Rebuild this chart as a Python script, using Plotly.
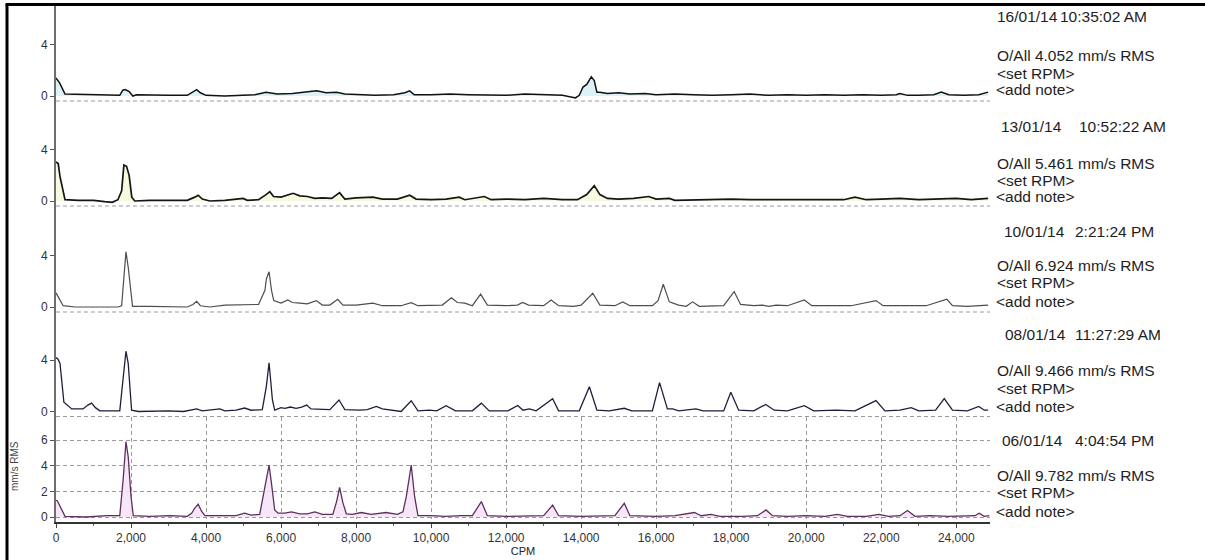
import plotly.graph_objects as go
from plotly.subplots import make_subplots

# ---------------- data (CPM, mm/s RMS) ----------------
spec_160114 = [(0,1.4),(100,1.0),(240,0.15),(600,0.12),(1000,0.05),(1400,0.05),(1700,0.05),(1780,0.45),(1850,0.5),
    (1950,0.35),(2050,0.0),(2150,0.1),(2600,0.05),(3000,0.05),(3500,0.05),(3650,0.35),(3750,0.5),(3850,0.25),
    (4000,0.05),(4500,0.0),(5000,0.05),(5300,0.1),(5600,0.3),(5900,0.15),(6300,0.2),(6700,0.3),(6950,0.4),
    (7200,0.25),(7480,0.3),(7700,0.15),(8000,0.1),(8500,0.05),(9000,0.1),(9300,0.25),(9430,0.4),(9550,0.1),
    (10000,0.1),(10500,0.15),(11000,0.1),(11500,0.05),(12000,0.05),(12500,0.15),(13000,0.1),(13500,0.05),
    (13850,-0.15),(13950,0.05),(14050,0.7),(14150,0.9),(14270,1.5),(14350,1.2),(14420,0.3),(14500,0.3),
    (14700,0.2),(15000,0.25),(15300,0.15),(15700,0.2),(16000,0.1),(16500,0.15),(17000,0.1),(17500,0.05),
    (18000,0.1),(18500,0.15),(19000,0.05),(19500,0.1),(20000,0.05),(20500,0.1),(21000,0.05),(21500,0.1),
    (22000,0.05),(22400,0.1),(22500,0.2),(22700,0.05),(23000,0.05),(23400,0.1),(23600,0.3),(23800,0.1),
    (24200,0.05),(24600,0.1),(24850,0.3)]

spec_130114 = [(0,3.05),(60,2.9),(107,1.9),(240,0.1),(600,0.05),(1000,0.05),(1300,-0.05),(1500,-0.1),(1650,0.1),
    (1750,0.8),(1810,2.8),(1880,2.7),(1950,2.0),(2020,0.3),(2100,0.0),(2500,0.05),(3000,0.05),(3500,0.05),
    (3700,0.3),(3790,0.45),(3900,0.15),(4100,0.0),(4500,0.05),(4990,0.2),(5100,0.05),(5400,0.1),(5600,0.5),
    (5700,0.73),(5800,0.35),(6000,0.3),(6320,0.6),(6500,0.4),(6700,0.35),(6900,0.2),(7100,0.25),(7350,0.2),
    (7560,0.65),(7700,0.15),(8000,0.25),(8450,0.3),(8700,0.15),(9100,0.15),(9430,0.45),(9600,0.15),(10000,0.1),
    (10400,0.15),(10750,0.3),(10900,0.1),(11420,0.35),(11600,0.1),(12000,0.15),(12500,0.1),(13000,0.2),
    (13500,0.1),(13900,0.1),(14150,0.5),(14350,1.2),(14500,0.5),(14700,0.2),(15000,0.15),(15400,0.2),
    (15800,0.35),(16000,0.15),(16350,0.2),(16500,0.05),(17000,0.1),(17500,0.1),(18000,0.15),(18500,0.1),
    (19000,0.1),(19500,0.15),(20000,0.1),(20500,0.15),(21000,0.1),(21300,0.3),(21600,0.1),(22000,0.15),
    (22500,0.2),(23000,0.1),(23500,0.15),(24000,0.2),(24400,0.1),(24850,0.2)]

spec_100114 = [(0,1.1),(60,0.8),(190,0.1),(500,0.0),(1000,0.0),(1500,0.05),(1650,0.0),(1750,0.1),(1810,2.36),
    (1865,4.3),(1925,3.1),(1990,1.3),(2040,0.05),(2500,0.05),(3000,0.05),(3500,0.0),(3650,0.2),(3750,0.44),
    (3850,0.1),(4100,0.0),(4500,0.15),(5000,0.15),(5400,0.2),(5570,1.3),(5610,2.2),(5680,2.75),(5745,1.3),
    (5805,0.5),(6000,0.3),(6180,0.55),(6300,0.35),(6500,0.3),(6700,0.25),(6940,0.5),(7100,0.15),(7300,0.15),
    (7510,0.6),(7650,0.15),(8000,0.15),(8450,0.3),(8700,0.1),(9200,0.1),(9470,0.34),(9650,0.1),(10000,0.1),
    (10300,0.15),(10540,0.72),(10700,0.35),(10900,0.3),(11100,0.1),(11320,1.0),(11500,0.15),(12000,0.1),
    (12300,0.15),(12440,0.35),(12600,0.15),(13000,0.1),(13200,0.55),(13400,0.1),(13800,0.05),(14000,0.15),
    (14310,1.07),(14500,0.15),(14900,0.1),(15110,0.4),(15300,0.1),(15900,0.1),(16050,0.5),(16190,1.77),
    (16350,0.4),(16600,0.15),(16800,0.05),(16970,0.4),(17150,0.05),(17800,0.1),(18080,1.2),(18250,0.2),
    (18600,0.1),(18830,0.15),(19000,0.05),(19200,0.15),(19500,0.1),(19950,0.55),(20150,0.1),(20700,0.1),
    (21200,0.1),(21860,0.5),(22050,0.1),(22600,0.1),(23200,0.1),(23750,0.6),(23900,0.1),(24300,0.05),
    (24600,0.1),(24850,0.15)]

spec_080114 = [(0,4.2),(50,4.1),(107,3.75),(210,0.73),(420,0.2),(720,0.2),(850,0.5),(950,0.65),(1050,0.3),
    (1170,0.05),(1700,0.05),(1790,2.7),(1865,4.7),(1925,3.75),(2015,0.1),(2200,0.0),(3000,0.05),(3400,0.0),
    (3750,0.2),(3900,0.05),(4370,0.2),(4500,0.05),(4800,0.1),(5030,0.27),(5200,0.1),(5500,0.15),(5610,2.0),
    (5680,3.8),(5770,0.9),(5830,0.1),(6000,0.3),(6100,0.25),(6250,0.35),(6400,0.25),(6550,0.35),(6680,0.5),
    (6800,0.2),(7300,0.15),(7545,0.9),(7700,0.15),(8100,0.1),(8300,0.15),(8540,0.4),(8700,0.2),(9200,0.0),
    (9470,0.84),(9650,0.05),(9960,0.1),(10150,0.05),(10400,0.45),(10650,0.05),(11100,0.05),(11340,0.65),
    (11550,0.05),(12050,0.05),(12310,0.47),(12450,0.1),(12620,0.2),(12800,0.05),(13240,1.0),(13400,0.05),
    (13950,0.05),(14220,1.93),(14420,0.1),(14530,0.1),(14750,0.05),(15150,0.25),(15350,0.05),(15900,0.05),
    (16090,2.25),(16300,0.2),(16440,0.2),(16600,0.05),(17060,0.2),(17250,0.05),(17800,0.05),(17990,1.5),
    (18200,0.1),(18600,0.05),(18920,0.55),(19150,0.1),(19500,0.05),(19950,0.45),(20200,0.05),(20800,0.1),
    (21300,0.05),(21860,0.85),(22100,0.05),(22500,0.1),(22800,0.3),(23000,0.05),(23450,0.1),(23680,1.0),
    (23900,0.1),(24300,0.05),(24600,0.4),(24750,0.1),(24850,0.1)]

spec_060114 = [(0,1.3),(35,1.27),(240,0.05),(800,0.0),(1350,0.1),(1700,0.1),(1790,2.9),(1865,5.87),(1925,4.7),
    (2000,1.6),(2060,0.1),(2500,0.05),(3040,0.1),(3500,0.05),(3620,0.3),(3700,0.7),(3790,1.0),(3880,0.45),
    (3970,0.1),(4500,0.1),(4800,0.1),(5030,0.3),(5200,0.15),(5430,0.2),(5590,2.6),(5680,4.05),(5745,2.6),
    (5830,0.55),(5920,0.3),(6100,0.3),(6280,0.4),(6500,0.25),(6700,0.25),(6900,0.4),(7100,0.2),(7380,0.2),
    (7480,1.2),(7560,2.3),(7650,1.1),(7740,0.25),(7900,0.2),(8140,0.35),(8400,0.2),(8800,0.35),(9100,0.2),
    (9250,0.4),(9340,1.6),(9470,4.05),(9560,1.6),(9650,0.1),(10000,0.1),(10400,0.05),(10800,0.1),(11100,0.1),
    (11340,1.2),(11500,0.1),(12000,0.05),(12500,0.1),(13000,0.1),(13240,0.93),(13400,0.1),(14000,0.05),
    (14500,0.1),(14900,0.1),(15150,1.07),(15300,0.1),(16000,0.05),(16500,0.1),(17020,0.35),(17200,0.1),
    (17460,0.2),(17700,0.05),(18300,0.05),(18700,0.1),(18930,0.55),(19100,0.1),(19500,0.05),(20000,0.1),
    (20500,0.05),(20830,0.2),(21100,0.05),(21600,0.05),(21940,0.2),(22200,0.05),(22500,0.1),(22700,0.5),
    (22900,0.05),(23300,0.1),(23800,0.05),(24200,0.1),(24500,0.1),(24610,0.3),(24750,0.05),(24880,0.1)]

dates = ["16/01/14", "13/01/14", "10/01/14", "08/01/14", "06/01/14"]
times = ["10:35:02 AM", "10:52:22 AM", "2:21:24 PM", "11:27:29 AM", "4:04:54 PM"]
overall = [4.052, 5.461, 6.924, 9.466, 9.782]
x_ticks = list(range(0, 24001, 2000))
y_ticks_small = [0, 4]
y_ticks_last = [0, 2, 4, 6]

spectra = [spec_160114, spec_130114, spec_100114, spec_080114, spec_060114]

# ---------------- styling / layout ----------------
W, H = 1205, 560
L, R, T, B = 56, 990, 5, 522          # plot area in pixels
PX_PER_UNIT = 12.83
bounds_px = [T, 101, 206, 312, 416.5, B]   # panel boundaries (top -> bottom)
line_colors = ["#111111", "#151515", "#4d4d4d", "#1e1e3a", "#5c305c"]
fill_colors = ["rgba(214,240,246,0.85)", "rgba(248,248,218,0.85)", None, None, "rgba(246,226,246,0.85)"]
line_widths = [1.5, 1.7, 1.2, 1.3, 1.3]

def fy(ypx):
    return (B - ypx) / (B - T)

def fx(xpx):
    return (xpx - L) / (R - L)

fig = make_subplots(rows=5, cols=1, shared_xaxes=True, vertical_spacing=0)

for i, spec in enumerate(spectra):
    xs = [p[0] for p in spec]
    ys = [p[1] for p in spec]
    kw = {}
    if fill_colors[i]:
        kw = dict(fill="tozeroy", fillcolor=fill_colors[i])
    fig.add_trace(go.Scatter(x=xs, y=ys, mode="lines",
                             line=dict(color=line_colors[i], width=line_widths[i]),
                             showlegend=False, hoverinfo="skip", **kw), row=i + 1, col=1)

tick_font = dict(family="Liberation Sans, Arial", size=12, color="#333333")
for i in range(5):
    top_px, bot_px = bounds_px[i], bounds_px[i + 1]
    height_px = bot_px - top_px
    lo = -5 / PX_PER_UNIT
    hi = lo + height_px / PX_PER_UNIT
    yname = "yaxis" if i == 0 else f"yaxis{i+1}"
    xname = "xaxis" if i == 0 else f"xaxis{i+1}"
    last = (i == 4)
    fig.update_layout(**{
        yname: dict(domain=[fy(bot_px), fy(top_px)], range=[lo, hi],
                    tickvals=y_ticks_last if last else y_ticks_small,
                    ticks="outside", ticklen=4, tickcolor="#555555", tickfont=tick_font,
                    showline=True, linecolor="#6e6e6e", linewidth=2,
                    showgrid=last, gridcolor="#9a9a9a", griddash="4px,3px", gridwidth=1,
                    zeroline=False, fixedrange=True),
        xname: dict(range=[0, 24900], showgrid=last, gridcolor="#9a9a9a", griddash="4px,3px",
                    tickvals=x_ticks, tickformat=",d", zeroline=False,
                    showticklabels=last, ticks="outside" if last else "", ticklen=4,
                    tickcolor="#444444", tickfont=tick_font,
                    showline=last, linecolor="#333333", linewidth=1.5,
                    minor=dict(ticks="outside", dtick=1000, ticklen=2, tickcolor="#666666") if last else None),
    })

fig.update_xaxes(title=dict(text="CPM", font=dict(family="Liberation Sans, Arial", size=11, color="#222222"),
                            standoff=1), row=5, col=1)

shapes = []
# dashed baselines of the upper four panels
for bpx in bounds_px[1:5]:
    shapes.append(dict(type="line", xref="paper", yref="paper", x0=0, x1=1, y0=fy(bpx), y1=fy(bpx),
                       line=dict(color="#9a9a9a", width=1, dash="4px,3px"), layer="below"))
# picture frame (left and top edges)
shapes.append(dict(type="line", xref="paper", yref="paper", x0=fx(7), x1=fx(7), y0=fy(4.5), y1=fy(565),
                   line=dict(color="#000000", width=3)))
shapes.append(dict(type="line", xref="paper", yref="paper", x0=fx(5.5), x1=fx(1210), y0=fy(4.5), y1=fy(4.5),
                   line=dict(color="#000000", width=3)))

txt_font = dict(family="Liberation Sans, Arial", size=15.5, color="#1e1e1e")
annotations = []
date_y = [16.7, 126, 231.7, 334.3, 440]
oall_y = [55, 163, 265, 370, 475]
set_y = [74, 180, 282.3, 388.3, 492.7]
note_y = [89.5, 197, 301, 406, 511]
date_x = [995, 999, 1001.5, 1003, 1000]
time_x = [1058, 1077, 1073, 1073, 1073]
for i in range(5):
    annotations.append(dict(text=dates[i], x=fx(date_x[i]), y=fy(date_y[i]), xref="paper", yref="paper",
                            xanchor="left", yanchor="middle", showarrow=False, font=txt_font))
    annotations.append(dict(text=times[i], x=fx(time_x[i]), y=fy(date_y[i]), xref="paper", yref="paper",
                            xanchor="left", yanchor="middle", showarrow=False, font=txt_font))
    annotations.append(dict(text=f"O/All {overall[i]:.3f} mm/s RMS", x=fx(995), y=fy(oall_y[i]),
                            xref="paper", yref="paper", xanchor="left", yanchor="middle",
                            showarrow=False, font=txt_font))
    annotations.append(dict(text="&lt;set RPM&gt;", x=fx(995), y=fy(set_y[i]), xref="paper", yref="paper",
                            xanchor="left", yanchor="middle", showarrow=False, font=txt_font))
    annotations.append(dict(text="&lt;add note&gt;", x=fx(994), y=fy(note_y[i]), xref="paper", yref="paper",
                            xanchor="left", yanchor="middle", showarrow=False, font=txt_font))
annotations.append(dict(text="mm/s RMS", x=fx(14), y=fy(466), xref="paper", yref="paper",
                        xanchor="center", yanchor="middle", textangle=-90, showarrow=False,
                        font=dict(family="Liberation Sans, Arial", size=10, color="#444444")))

fig.update_layout(width=W, height=H, margin=dict(l=L, r=W - R, t=T, b=H - B),
                  paper_bgcolor="white", plot_bgcolor="white",
                  shapes=shapes, annotations=annotations, showlegend=False)

fig.write_html("out.html", config={"displayModeBar": False},
               post_script="document.body.style.margin='0';document.body.style.padding='0';"
                           "document.body.style.overflow='hidden';")
